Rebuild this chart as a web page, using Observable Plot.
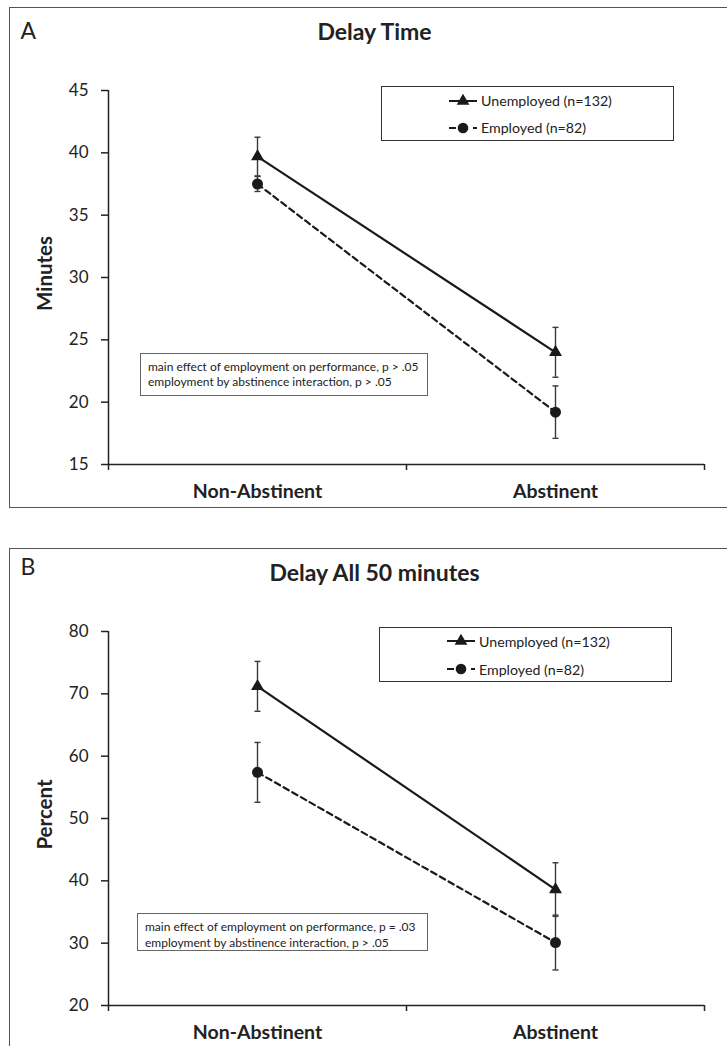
<!DOCTYPE html>
<html>
<head>
<meta charset="utf-8">
<script src="https://cdn.jsdelivr.net/npm/d3@7"></script>
<script src="https://cdn.jsdelivr.net/npm/@observablehq/plot@0.6"></script>
<style>
  html, body { margin: 0; padding: 0; background: #fff; }
  #page { position: relative; width: 727px; height: 1046px; overflow: hidden; font-family: Lato, "Open Sans", sans-serif; color: #222; }
  .panel { position: absolute; left: 0; width: 727px; }
  .frame { position: absolute; border: 1.6px solid #555; box-sizing: border-box; pointer-events: none; }
  .legend { position: absolute; border: 1.6px solid #333; box-sizing: border-box; background: #fff; }
  .legend .row { position: absolute; left: 66px; height: 20px; display: flex; align-items: center; font-size: 14.2px; color: #222; }
  .legend svg { display: block; margin-right: 3px; }
  .note { position: absolute; border: 1px solid #666; box-sizing: border-box; background: #fff; font-size: 12px; color: #222; }
  .note div { position: absolute; left: 7px; white-space: nowrap; line-height: 14px; }
</style>
</head>
<body>
<div id="page"></div>
<script>
// ---------- data ----------
const categories = ["Non-Abstinent", "Abstinent"];
const seriesNames = ["Unemployed (n=132)", "Employed (n=82)"];

// Panel A: Delay Time (minutes)
const delayTitle = "Delay Time";
const delayYLabel = "Minutes";
const delayTicks = [15, 20, 25, 30, 35, 40, 45];
const delayUnemployed = [39.7, 24.0];
const delayUnemployedErr = [1.55, 2.0];
const delayEmployed = [37.5, 19.2];
const delayEmployedErr = [0.6, 2.1];
const delayNotes = ["main effect of employment on performance, p > .05", "employment by abstinence interaction, p > .05"];

// Panel B: Delay All 50 minutes (percent)
const allTitle = "Delay All 50 minutes";
const allYLabel = "Percent";
const allTicks = [20, 30, 40, 50, 60, 70, 80];
const allUnemployed = [71.2, 38.6];
const allUnemployedErr = [4.0, 4.3];
const allEmployed = [57.4, 30.1];
const allEmployedErr = [4.8, 4.4];
const allNotes = ["main effect of employment on performance, p = .03", "employment by abstinence interaction, p > .05"];

// ---------- helpers ----------
const capSymbol = {
  draw(context, size) {
    const r = Math.sqrt(size / Math.PI);
    context.moveTo(-r, 0);
    context.lineTo(r, 0);
  }
};

function rowsFor(values, errs, name) {
  return categories.map((c, i) => ({category: c, pos: i + 0.5, value: values[i], err: errs[i], series: name}));
}

function makePlot({letter, title, yLabel, ticks, unemp, unempErr, emp, empErr, marginTop, marginBottom, height}) {
  const U = rowsFor(unemp, unempErr, seriesNames[0]);
  const E = rowsFor(emp, empErr, seriesNames[1]);
  const all = U.concat(E);
  const errStyle = {stroke: "#3a3a3a", strokeWidth: 1.4};
  return Plot.plot({
    width: 727,
    height,
    marginTop,
    marginBottom,
    marginLeft: 108,
    marginRight: 23,
    style: {fontFamily: "Lato, 'Open Sans', sans-serif", color: "#222", background: "transparent", overflow: "visible"},
    x: {domain: [0, categories.length]},
    y: {domain: [ticks[0], ticks[ticks.length - 1]]},
    marks: [
      Plot.ruleY([ticks[0]], {stroke: "#222", strokeWidth: 1.5}),
      Plot.ruleX([0], {stroke: "#222", strokeWidth: 1.5}),
      Plot.axisY({ticks, tickSize: 7, tickPadding: 13, fontSize: 17, tickFormat: d => String(d), label: null, strokeWidth: 1.5}),
      Plot.axisX({ticks: d3.range(categories.length + 1), tickSize: 6, tickFormat: () => "", label: null, strokeWidth: 1.5}),
      Plot.axisX({ticks: categories.map((c, i) => i + 0.5), tickSize: 0, tickPadding: 20, fontSize: 19.5, fontWeight: "bold",
        tickFormat: d => categories[Math.round(d - 0.5)], label: null}),
      Plot.text([yLabel], {frameAnchor: "left", dx: -63, dy: -4, rotate: -90, textAnchor: "middle", fontWeight: "bold", fontSize: 20.5, fill: "#222"}),
      Plot.text([title], {frameAnchor: "top", dx: -32, dy: -58, textAnchor: "middle", lineAnchor: "middle", fontWeight: "bold", fontSize: 23, fill: "#222"}),
      Plot.text([letter], {frameAnchor: "top-left", dx: -88, dy: letter === "A" ? -59 : -64, textAnchor: "start", lineAnchor: "middle", fontSize: 23, fill: "#222"}),
      // error bars
      Plot.ruleX(all, {x: "pos", y1: d => d.value - d.err, y2: d => d.value + d.err, ...errStyle}),
      Plot.dot(all, {x: "pos", y: d => d.value - d.err, symbol: capSymbol, r: 3, fill: "none", ...errStyle}),
      Plot.dot(all, {x: "pos", y: d => d.value + d.err, symbol: capSymbol, r: 3, fill: "none", ...errStyle}),
      // lines
      Plot.line(E, {x: "pos", y: "value", stroke: "#1a1a1a", strokeWidth: 2.2, strokeDasharray: "6,4"}),
      Plot.line(U, {x: "pos", y: "value", stroke: "#1a1a1a", strokeWidth: 2.2}),
      // markers
      Plot.dot(U, {x: "pos", y: "value", symbol: "triangle", r: 4.8, fill: "#1a1a1a", stroke: "none"}),
      Plot.dot(E, {x: "pos", y: "value", symbol: "circle", r: 5.5, fill: "#1a1a1a", stroke: "none"})
    ]
  });
}

function legendRowSvg(kind) {
  const ns = "http://www.w3.org/2000/svg";
  const svg = document.createElementNS(ns, "svg");
  svg.setAttribute("width", 30);
  svg.setAttribute("height", 14);
  const line = document.createElementNS(ns, "line");
  line.setAttribute("x1", 1); line.setAttribute("x2", 29);
  line.setAttribute("y1", 7); line.setAttribute("y2", 7);
  line.setAttribute("stroke", "#1a1a1a"); line.setAttribute("stroke-width", 2);
  if (kind === "dash") line.setAttribute("stroke-dasharray", "7,5");
  svg.appendChild(line);
  if (kind === "dash") {
    const c = document.createElementNS(ns, "circle");
    c.setAttribute("cx", 15); c.setAttribute("cy", 7); c.setAttribute("r", 5.3); c.setAttribute("fill", "#1a1a1a");
    svg.appendChild(c);
  } else {
    const p = document.createElementNS(ns, "path");
    p.setAttribute("d", d3.symbol(d3.symbolTriangle, 70)());
    p.setAttribute("transform", "translate(15,7)");
    p.setAttribute("fill", "#1a1a1a");
    svg.appendChild(p);
  }
  return svg;
}

function addLegend(parent, left, top, rowYs) {
  const box = document.createElement("div");
  box.className = "legend";
  Object.assign(box.style, {left: left + "px", top: top + "px", width: "293px", height: "55px"});
  seriesNames.forEach((name, i) => {
    const row = document.createElement("div");
    row.className = "row";
    row.style.top = (rowYs[i] - 10) + "px";
    row.appendChild(legendRowSvg(i === 0 ? "solid" : "dash"));
    const t = document.createElement("span");
    t.textContent = name;
    row.appendChild(t);
    box.appendChild(row);
  });
  parent.appendChild(box);
}

function addNote(parent, left, top, w, h, lines, lineYs) {
  const box = document.createElement("div");
  box.className = "note";
  Object.assign(box.style, {left: left + "px", top: top + "px", width: w + "px", height: h + "px"});
  lines.forEach((txt, i) => {
    const d = document.createElement("div");
    d.textContent = txt;
    d.style.top = (lineYs[i] - 7) + "px";
    box.appendChild(d);
  });
  parent.appendChild(box);
}

function addFrame(parent, left, top, w, h) {
  const f = document.createElement("div");
  f.className = "frame";
  Object.assign(f.style, {left: left + "px", top: top + "px", width: w + "px", height: h + "px"});
  parent.appendChild(f);
}

const page = document.getElementById("page");

// Panel A
const pa = document.createElement("div");
pa.className = "panel";
pa.style.top = "0px";
pa.style.height = "540px";
pa.appendChild(makePlot({letter: "A", title: delayTitle, yLabel: delayYLabel, ticks: delayTicks,
  unemp: delayUnemployed, unempErr: delayUnemployedErr, emp: delayEmployed, empErr: delayEmployedErr,
  marginTop: 90, marginBottom: 56, height: 520}));
page.appendChild(pa);
addFrame(page, 9, 7, 730, 501);
addLegend(page, 381, 86, [13.5, 40.5]);
addNote(page, 140, 353, 288, 43, delayNotes, [12.5, 27.5]);

// Panel B
const pb = document.createElement("div");
pb.className = "panel";
pb.style.top = "540px";
pb.style.height = "520px";
pb.appendChild(makePlot({letter: "B", title: allTitle, yLabel: allYLabel, ticks: allTicks,
  unemp: allUnemployed, unempErr: allUnemployedErr, emp: allEmployed, empErr: allEmployedErr,
  marginTop: 91, marginBottom: 55, height: 520}));
page.appendChild(pb);
addFrame(page, 9, 548, 730, 520);
addLegend(page, 379, 627, [13, 41]);
addNote(page, 137, 913, 291, 38, allNotes, [12.5, 28.5]);
</script>
</body>
</html>
